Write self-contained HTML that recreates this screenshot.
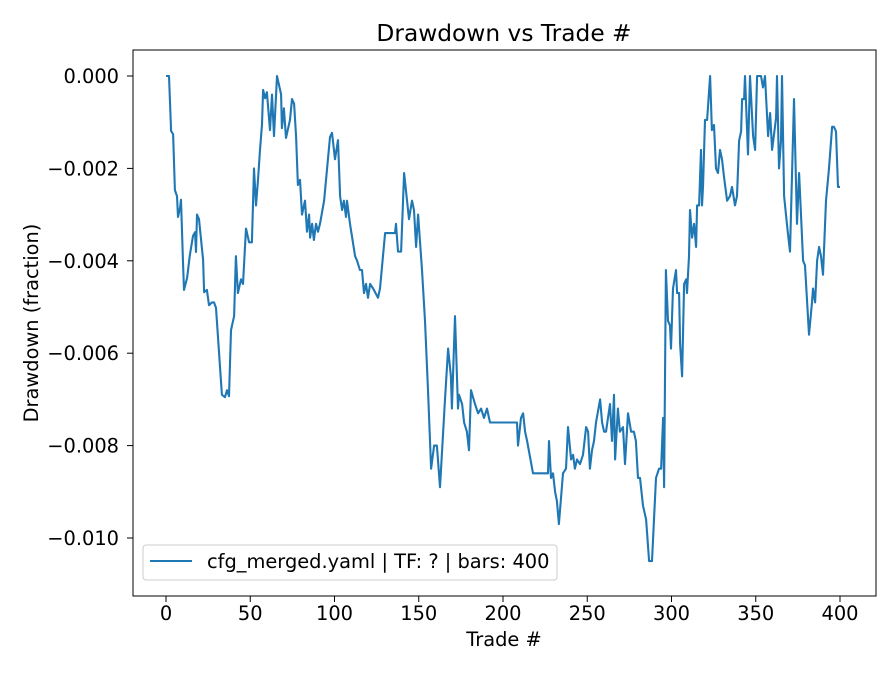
<!DOCTYPE html>
<html><head><meta charset="utf-8"><style>
body{margin:0;background:#fff}
svg text{font-family:"DejaVu Sans","Liberation Sans",sans-serif;fill:#000}
</style></head><body>
<svg id="chart" width="896" height="672" xmlns="http://www.w3.org/2000/svg">
<rect width="896" height="672" fill="#fff"/>
<text x="504" y="41" font-size="23.3" text-anchor="middle">Drawdown vs Trade #</text>
<g id="yticks"></g><g id="xticks"></g>
<path id="line" fill="none" stroke="#1f77b4" stroke-width="2.1" stroke-linejoin="round"/>
<rect x="133" y="50" width="743" height="546" fill="none" stroke="#000" stroke-width="1"/>
<text x="504" y="646" font-size="19.4" text-anchor="middle">Trade #</text>
<text transform="translate(38,323) rotate(-90)" font-size="19.4" text-anchor="middle">Drawdown (fraction)</text>
<g>
<rect x="143" y="545" width="414" height="35" rx="3" fill="#fff" stroke="#ccc"/>
<line x1="150" y1="561" x2="192" y2="561" stroke="#1f77b4" stroke-width="2.1"/>
<text x="207" y="568" font-size="19.4">cfg_merged.yaml | TF: ? | bars: 400</text>
</g>
</svg>
<script>
const trades=[0,1.8,3,4.2,5.3,6.5,7.1,8.3,8.9,10.1,10.7,12.5,14.2,16,17.2,17.8,18.4,19.6,22,22.6,24.3,25.5,27.3,28.5,29.7,33.2,35,36.2,37.4,38.6,40.4,41.5,42.7,44.5,45.7,47.5,49.3,51,52.2,53.4,54.6,55.8,57,57.6,58.8,59.9,61.7,62.9,64.1,65.9,67.7,68.3,68.8,70,71.2,73.6,74.8,76,77.2,78.3,79.5,80.7,82.5,83.7,84.9,85.5,86.7,87.8,89,90.2,91.4,93.8,97.3,98.5,100.3,102.1,103.3,104.5,105.6,106.8,107.4,109.2,112.2,113.4,115.1,116.3,117.5,118.7,119.9,121.1,122.9,125.8,127,130,135.9,136.5,137.7,139.5,141.3,144.2,146,147.2,148.4,149.6,151.9,153.7,155.5,157.3,159.1,160.8,162.6,165.6,167.4,169.1,169.7,171.5,173.3,173.9,175.7,176.9,178.6,179.8,181,183.4,185.2,187,188.7,190.5,192.3,208.3,208.9,210.7,211.9,213.1,214.3,217.8,226.7,227.3,228.5,229.7,230.9,232,233.2,235.6,237.4,238.6,240.4,241.6,242.7,243.9,245.7,247.5,249.3,250.5,251.6,252.8,254,255.2,257.6,258.8,260,261.1,262.3,263.5,264.7,265.9,266.5,268.2,269.4,271.2,272.4,274.2,276,277.7,278.9,280.1,281.3,283.1,284.9,286.7,288.4,290.8,292.6,293.8,295,295.6,296.7,297.9,299.1,299.7,300.9,302.7,303.3,304.5,305.1,306.3,307.5,308.7,309.2,310.4,311,312.2,313.4,314.6,315.2,316.4,317.5,318.1,318.7,319.9,321.1,322.9,324,325.2,326.4,327.6,328.8,330,331.2,333,334.7,335.9,337.7,338.9,340.1,341.3,341.9,343.1,343.6,345.4,346.6,348.4,349.6,350.8,353.1,354.3,355.5,357.3,358.5,359.7,362.1,362.6,363.8,365,365.6,366.8,368.5,369.1,370.3,372.7,374.5,375.7,378.1,379.2,381.6,383.4,384,385.2,386.4,387.6,388.7,389.9,391.7,393.5,395.3,396.4,397.6,398.8,400];
const drawdown=[0,0,-0.00119,-0.00126,-0.00247,-0.0026,-0.00305,-0.00286,-0.00268,-0.00403,-0.00463,-0.00437,-0.00387,-0.00346,-0.00338,-0.00381,-0.003,-0.0031,-0.00398,-0.00468,-0.00463,-0.00496,-0.0049,-0.0049,-0.00502,-0.0069,-0.00695,-0.0068,-0.00693,-0.0055,-0.0052,-0.0039,-0.0047,-0.0044,-0.0045,-0.0033,-0.0036,-0.0036,-0.002,-0.0028,-0.00225,-0.0016,-0.00105,-0.0003,-0.00048,-0.00035,-0.00117,-0.0004,-0.0013,0,-0.0003,-0.0004,-0.00113,-0.0007,-0.00134,-0.00095,-0.0005,-0.0006,-0.00132,-0.00236,-0.00225,-0.003,-0.0027,-0.00337,-0.003,-0.0035,-0.0032,-0.00355,-0.0032,-0.00337,-0.0032,-0.0027,-0.00132,-0.00123,-0.0018,-0.00139,-0.0026,-0.0029,-0.0027,-0.00305,-0.0027,-0.0032,-0.0039,-0.004,-0.0042,-0.0042,-0.0047,-0.0045,-0.0048,-0.0045,-0.0046,-0.0048,-0.0046,-0.0034,-0.0034,-0.0032,-0.0038,-0.0038,-0.0021,-0.0031,-0.0027,-0.0029,-0.0037,-0.003,-0.0042,-0.0053,-0.0068,-0.0085,-0.008,-0.008,-0.0089,-0.007,-0.0059,-0.0065,-0.0072,-0.0052,-0.0072,-0.0069,-0.0071,-0.0075,-0.0077,-0.0081,-0.0068,-0.0071,-0.0073,-0.0072,-0.0074,-0.0072,-0.0075,-0.0075,-0.008,-0.0074,-0.0073,-0.0077,-0.0079,-0.0086,-0.0086,-0.0079,-0.0087,-0.0086,-0.009,-0.0092,-0.0097,-0.0086,-0.0085,-0.0076,-0.0083,-0.0082,-0.0085,-0.0083,-0.0084,-0.0082,-0.0076,-0.0077,-0.0085,-0.0081,-0.0079,-0.0075,-0.007,-0.0075,-0.0077,-0.0077,-0.0074,-0.0071,-0.0079,-0.0069,-0.0083,-0.0072,-0.0077,-0.0076,-0.0084,-0.0073,-0.0077,-0.0077,-0.0079,-0.0087,-0.0087,-0.0093,-0.0096,-0.0105,-0.0105,-0.0087,-0.0085,-0.0085,-0.0074,-0.0089,-0.0042,-0.0053,-0.0054,-0.0059,-0.0046,-0.0042,-0.0047,-0.0047,-0.0058,-0.0065,-0.0045,-0.0044,-0.0047,-0.0039,-0.0029,-0.0035,-0.0032,-0.0037,-0.0028,-0.0028,-0.0016,-0.0028,-0.0024,-0.00095,-0.00095,0,-0.00117,-0.00106,-0.002,-0.0021,-0.0016,-0.0018,-0.0022,-0.0027,-0.0026,-0.0024,-0.0028,-0.0026,-0.0014,-0.0012,-0.0005,-0.0005,0,-0.0017,0,-0.0013,-0.0016,0,0,-0.00025,0,-0.0013,-0.0008,-0.0016,-0.0009,0,-0.002,-0.0014,0,-0.0026,-0.0032,-0.0034,-0.0038,-0.0005,-0.0032,-0.0021,-0.004,-0.0041,-0.0056,-0.0049,-0.0046,-0.0049,-0.004,-0.0037,-0.0039,-0.0043,-0.0027,-0.002,-0.0011,-0.0011,-0.0012,-0.0024,-0.0024];
const xTicks=[0,50,100,150,200,250,300,350,400];
const yTicks=[0,-0.002,-0.004,-0.006,-0.008,-0.010];
const X=t=>166+t*(840-166)/400;
const Y=v=>76+(-v)*(538-76)/0.010;
const NS="http://www.w3.org/2000/svg";
const yg=document.getElementById('yticks'),xg=document.getElementById('xticks');
yTicks.forEach(v=>{
  const l=document.createElementNS(NS,'line');
  l.setAttribute('x1',127);l.setAttribute('x2',133);l.setAttribute('y1',Y(v));l.setAttribute('y2',Y(v));l.setAttribute('stroke','#000');
  
  
  yg.appendChild(l);
  const t=document.createElementNS(NS,'text');
  t.setAttribute('x',119);t.setAttribute('y',Y(v)+7);t.setAttribute('text-anchor','end');t.setAttribute('font-size','19.4');
  t.textContent=(v===0?'0.000':'\u2212'+Math.abs(v).toFixed(3));
  
  
  yg.appendChild(t);
});
xTicks.forEach(v=>{
  const l=document.createElementNS(NS,'line');
  l.setAttribute('x1',X(v));l.setAttribute('x2',X(v));l.setAttribute('y1',596);l.setAttribute('y2',602);l.setAttribute('stroke','#000');
  
  
  xg.appendChild(l);
  const t=document.createElementNS(NS,'text');
  t.setAttribute('x',X(v));t.setAttribute('y',620);t.setAttribute('text-anchor','middle');t.setAttribute('font-size','19.4');
  t.textContent=v;
  
  
  xg.appendChild(t);
});
document.getElementById('line').setAttribute('d',trades.map((t,i)=>(i?'L':'M')+X(t).toFixed(1)+','+Y(drawdown[i]).toFixed(1)).join(''));
</script>
</body></html>
